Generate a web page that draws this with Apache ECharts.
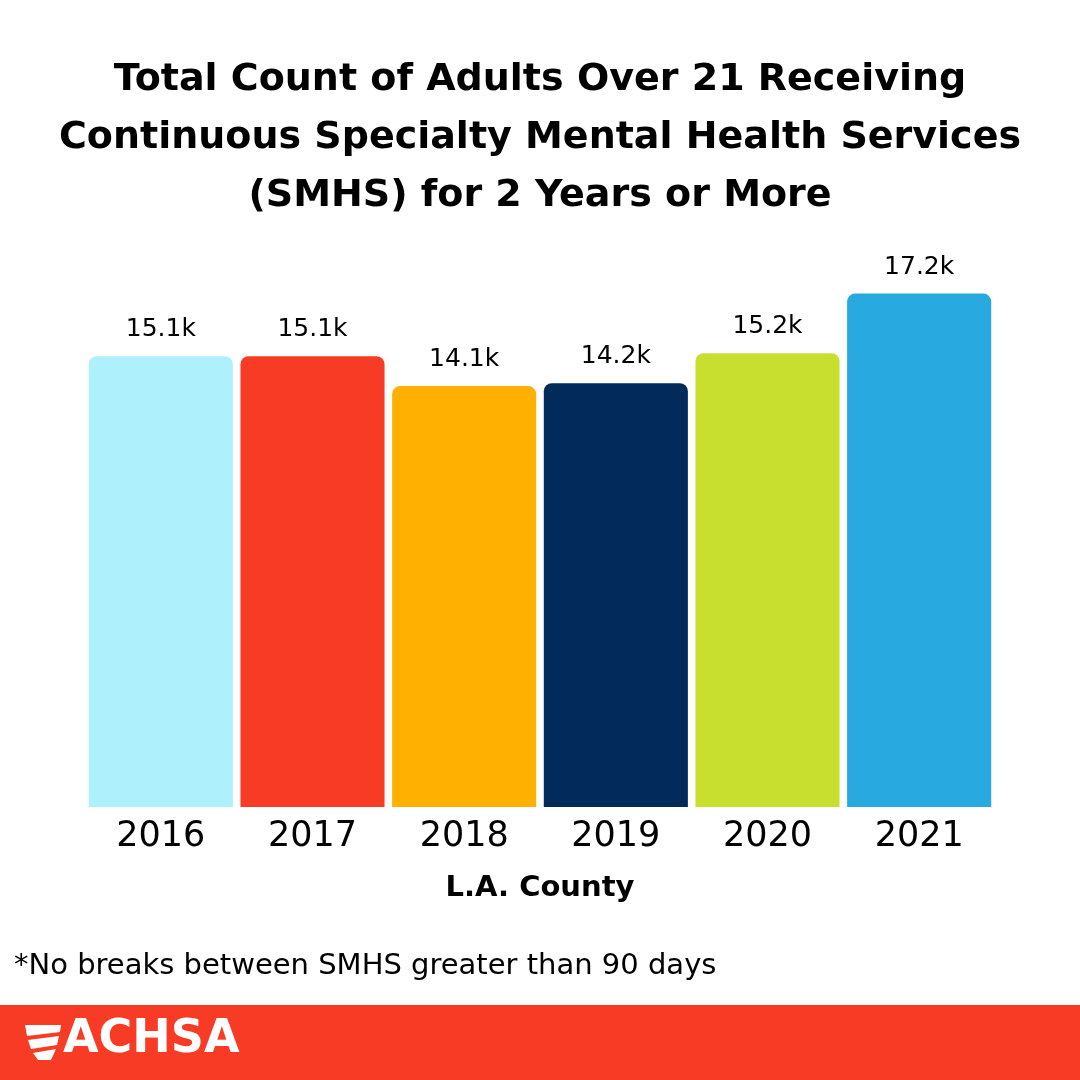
<!DOCTYPE html>
<html>
<head>
<meta charset="utf-8">
<script src="https://cdn.jsdelivr.net/npm/echarts@6/dist/echarts.min.js"></script>
<style>
  html, body { margin: 0; padding: 0; background: #fff; }
  #chart { width: 1080px; height: 1080px; }
</style>
</head>
<body>
<div id="chart"></div>
<script>
const years = ["2016", "2017", "2018", "2019", "2020", "2021"];
const counts = [15.1, 15.1, 14.1, 14.2, 15.2, 17.2]; // thousands
const barColors = ["#aef1fd", "#f73b24", "#ffb000", "#022b5c", "#c8df30", "#28a9e0"];

const fontFamily = "'DejaVu Sans', sans-serif";
const chart = echarts.init(document.getElementById("chart"));

chart.setOption({
    backgroundColor: "#fff",
    title: {
        text: "Total Count of Adults Over 21 Receiving\nContinuous Specialty Mental Health Services\n(SMHS) for 2 Years or More",
        left: "center",
        top: 46,
        textStyle: { fontFamily, fontSize: 38, fontWeight: "bold", color: "#000", lineHeight: 58 }
    },
    grid: { left: 85, right: 85, top: 210, bottom: 273 },
    xAxis: {
        type: "category",
        data: years,
        axisLine: { show: false },
        axisTick: { show: false },
        axisLabel: { fontFamily, fontSize: 35, color: "#000", margin: 12 }
    },
    yAxis: {
        type: "value",
        min: 0,
        max: 20,
        show: false
    },
    series: [{
        type: "bar",
        data: counts.map((v, i) => ({ value: v, itemStyle: { color: barColors[i] } })),
        barCategoryGap: "5%",
        itemStyle: { borderRadius: [8, 8, 0, 0] },
        label: {
            show: true,
            position: "top",
            distance: 14,
            fontFamily,
            fontSize: 25,
            color: "#000",
            formatter: p => p.value.toFixed(1) + "k"
        }
    }],
    graphic: [
        {
            type: "text",
            left: "center",
            top: 874,
            style: { text: "L.A. County", fontFamily, fontSize: 29, fontWeight: "bold", fill: "#000" }
        },
        {
            type: "text",
            left: 14,
            top: 952,
            style: { text: "*No breaks between SMHS greater than 90 days", fontFamily, fontSize: 29, fill: "#000" }
        },
        {
            type: "rect",
            shape: { x: 0, y: 1005, width: 1080, height: 75 },
            style: { fill: "#f73b24" }
        },
        // logo mark: three slanted stripes
        { type: "polygon", shape: { points: [[25, 1025], [61, 1025], [60, 1032], [27, 1036]] }, style: { fill: "#fff" } },
        { type: "polygon", shape: { points: [[28, 1040], [59, 1036], [57, 1045], [31, 1049]] }, style: { fill: "#fff" } },
        { type: "polygon", shape: { points: [[33, 1053], [56, 1049], [51, 1060], [38, 1060]] }, style: { fill: "#fff" } },
        {
            type: "text",
            left: 63,
            top: 1017,
            style: { text: "ACHSA", fontFamily, fontSize: 46, fontWeight: "bold", fill: "#fff" }
        }
    ]
});
</script>
</body>
</html>
